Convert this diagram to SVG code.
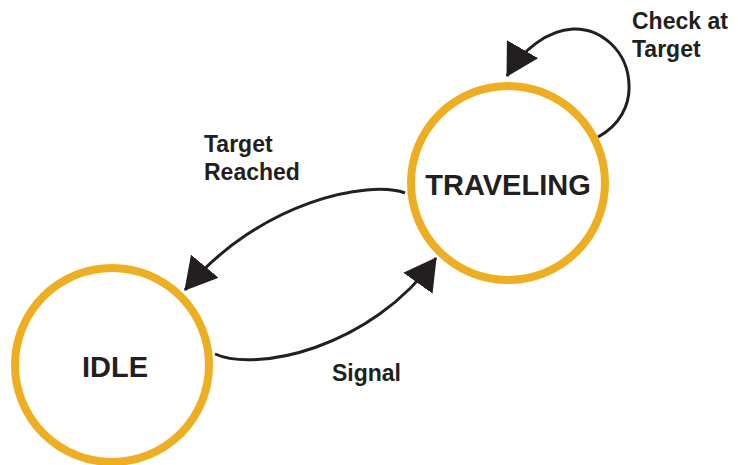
<svg xmlns="http://www.w3.org/2000/svg" width="738" height="465" viewBox="0 0 738 465">
  <style>
    .state { fill: #ffffff; stroke: #EDAE22; stroke-width: 8; }
    .state-label { font-family: "Liberation Sans", Arial, sans-serif; font-weight: bold; font-size: 29px; fill: #231F20; text-anchor: middle; }
    .edge { fill: none; stroke: #231F20; stroke-width: 3; marker-end: url(#arrow); }
    .edge-label { font-family: "Liberation Sans", Arial, sans-serif; font-weight: bold; font-size: 23px; fill: #231F20; }
  </style>
  <defs>
    <marker id="arrow" viewBox="0 0 32 36" refX="31" refY="18" markerWidth="32" markerHeight="36" markerUnits="userSpaceOnUse" orient="auto">
      <path d="M0,0 L32,18 L0,36 Z" fill="#231F20"/>
    </marker>
  </defs>
  <rect width="738" height="465" fill="#ffffff"/>

  <g id="connectors">
    <!-- TRAVELING -> IDLE -->
    <path class="edge" d="M405,193 C370,180 260,200 185,290"/>
    <!-- IDLE -> TRAVELING -->
    <path class="edge" d="M215,354 C255,372 370,350 436,258"/>
    <!-- TRAVELING self-loop -->
    <path class="edge" d="M598,137 C620,125 630,105 629,85 C628,50 600,28 573,29 C548,30 522,50 507,76"/>
  </g>

  <g id="edge-labels">
    <text class="edge-label" x="204" y="152">Target</text>
    <text class="edge-label" x="204" y="180">Reached</text>
    <text class="edge-label" x="332" y="381">Signal</text>
    <text class="edge-label" x="632" y="29">Check at</text>
    <text class="edge-label" x="632" y="57">Target</text>
  </g>

  <g id="node-traveling">
    <circle class="state" cx="508" cy="183" r="97"/>
    <text class="state-label" x="508" y="195">TRAVELING</text>
  </g>

  <g id="node-idle">
    <circle class="state" cx="112" cy="365" r="97"/>
    <text class="state-label" x="115" y="377">IDLE</text>
  </g>
</svg>
